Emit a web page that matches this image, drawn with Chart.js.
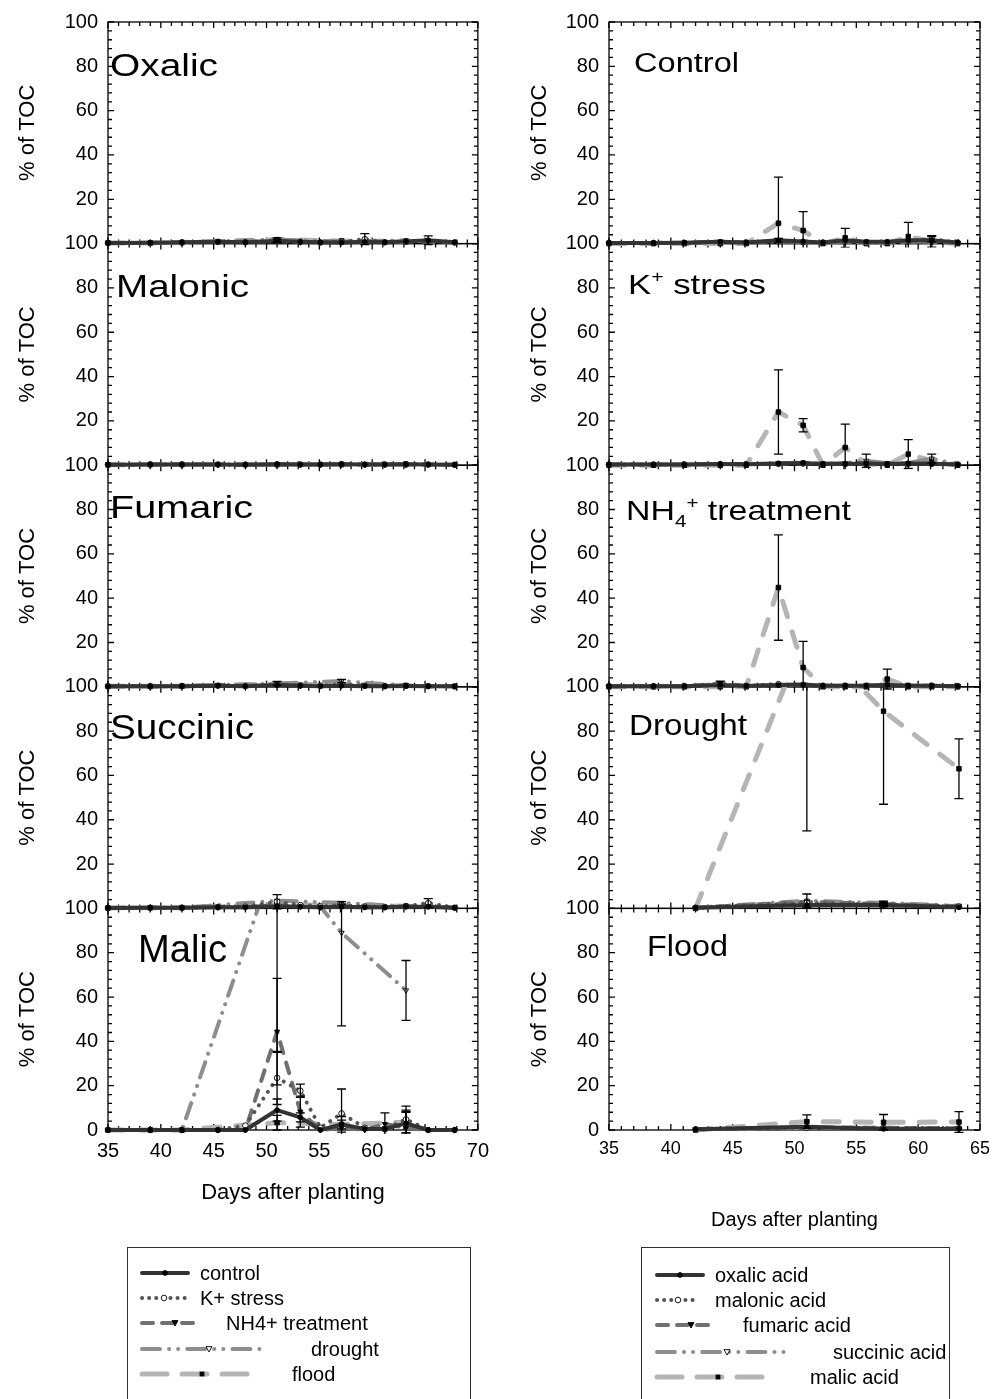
<!DOCTYPE html>
<html>
<head>
<meta charset="utf-8">
<title>% of TOC</title>
<script src="https://cdn.jsdelivr.net/npm/chart.js@4"></script>
<style>
html,body{margin:0;padding:0;background:#fff;}
body{position:relative;width:995px;height:1399px;overflow:hidden;font-family:"Liberation Sans",Arial,sans-serif;}
#leftChart{position:absolute;left:0;top:0;}
#rightChart{position:absolute;left:495px;top:0;}
#overlay{position:absolute;left:0;top:0;}
</style>
</head>
<body>
<canvas id="leftChart" width="498" height="1235"></canvas>
<canvas id="rightChart" width="503" height="1245"></canvas>
<svg id="overlay" width="995" height="1399" xmlns="http://www.w3.org/2000/svg"></svg>
<script>
// ---- data ----
const daysLeft = [35, 39, 42, 45.4, 48, 51, 53.2, 55.1, 57.1, 59.3, 61.2, 63.2, 65.3, 67.8];
const daysRight = [35, 38.6, 41.1, 44, 46.1, 48.7, 50.7, 52.3, 54.1, 55.8, 57.5, 59.2, 61.1, 63.2];
const daysStress = [42, 51, 57.2, 63.3];
const xTicksLeft = [35, 40, 45, 50, 55, 60, 65, 70];
const xTicksRight = [35, 40, 45, 50, 55, 60, 65];
const yTicks = [0, 20, 40, 60, 80, 100];

const treatments = ["control", "K+ stress", "NH4+ treatment", "drought", "flood"];
const acids = ["oxalic acid", "malonic acid", "fumaric acid", "succinic acid", "malic acid"];

// left column: one row per treatment (control, K+ stress, NH4+ treatment, drought, flood), % of TOC
const oxalicMean = [
  [0.3, 0.4, 0.6, 0.8, 0.6, 1.2, 0.8, 0.6, 0.5, 0.8, 0.6, 1.0, 1.5, 0.6],
  [0.3, 0.3, 0.5, 0.8, 0.6, 1.0, 0.8, 0.5, 0.8, 2.0, 0.6, 1.0, 1.2, 0.5],
  [0.3, 0.3, 0.5, 1.0, 0.6, 1.2, 0.6, 0.5, 0.6, 0.8, 0.7, 1.0, 0.8, 0.5],
  [0.3, 0.3, 0.5, null, null, 1.8, null, null, 1.0, null, null, 1.5, null, null],
  [0.3, 0.3, 0.5, null, null, 1.8, null, null, 1.2, null, null, 0.8, null, null]
];
const oxalicErr = [
  [0, 0, 0, 0, 0, 0.8, 0, 0, 0, 0, 0, 0, 2.0, 0],
  [0, 0, 0, 0, 0, 0, 0, 0, 0, 2.5, 0, 0, 0, 0],
  [0, 0, 0, 0, 0, 0, 0, 0, 0, 0, 0, 0, 0, 0],
  [0, 0, 0, 0, 0, 0.8, 0, 0, 0, 0, 0, 0, 0, 0],
  [0, 0, 0, 0, 0, 0, 0, 0, 0, 0, 0, 0, 0, 0]
];
const malonicMean = [
  [0.2, 0.3, 0.3, 0.3, 0.2, 0.4, 0.3, 0.3, 0.4, 0.3, 0.3, 0.4, 0.3, 0.2],
  [0.2, 0.3, 0.3, 0.3, 0.2, 0.3, 0.3, 0.3, 0.5, 0.3, 0.3, 0.5, 0.3, 0.2],
  [0.2, 0.3, 0.3, 0.3, 0.2, 0.4, 0.3, 0.3, 0.3, 0.3, 0.3, 0.3, 0.3, 0.2],
  [0.2, 0.3, 0.3, null, null, 0.4, null, null, 0.5, null, null, 0.4, null, null],
  [0.2, 0.3, 0.3, null, null, 0.3, null, null, 0.3, null, null, 0.3, null, null]
];
const malonicErr = [
  [0, 0, 0, 0, 0, 0, 0, 0, 0, 0, 0, 0, 0, 0],
  [0, 0, 0, 0, 0, 0, 0, 0, 0, 0, 0, 0, 0, 0],
  [0, 0, 0, 0, 0, 0, 0, 0, 0, 0, 0, 0, 0, 0],
  [0, 0, 0, 0, 0, 0, 0, 0, 0, 0, 0, 0, 0, 0],
  [0, 0, 0, 0, 0, 0, 0, 0, 0, 0, 0, 0, 0, 0]
];
const fumaricMean = [
  [0.2, 0.2, 0.3, 0.5, 0.3, 0.8, 0.5, 0.3, 0.5, 0.3, 0.3, 0.4, 0.3, 0.2],
  [0.2, 0.2, 0.3, 0.5, 0.3, 1.0, 0.6, 0.5, 1.2, 0.5, 0.3, 0.5, 0.3, 0.2],
  [0.2, 0.2, 0.3, 0.8, 0.3, 1.0, 0.5, 0.3, 0.6, 0.5, 0.3, 0.6, 0.3, 0.2],
  [0.2, 0.2, 0.3, null, null, 1.5, null, null, 2.6, null, null, 0.5, null, null],
  [0.2, 0.2, 0.3, null, null, 1.0, null, null, 1.0, null, null, 0.5, null, null]
];
const fumaricErr = [
  [0, 0, 0, 0, 0, 0, 0, 0, 0, 0, 0, 0, 0, 0],
  [0, 0, 0, 0, 0, 0, 0, 0, 0, 0, 0, 0, 0, 0],
  [0, 0, 0, 0, 0, 0, 0, 0, 0, 0, 0, 0, 0, 0],
  [0, 0, 0, 0, 0, 0.9, 0, 0, 0.7, 0, 0, 0, 0, 0],
  [0, 0, 0, 0, 0, 0, 0, 0, 0, 0, 0, 0, 0, 0]
];
const succinicMean = [
  [0.2, 0.3, 0.3, 0.5, 0.5, 1.0, 0.8, 0.5, 0.8, 0.5, 0.5, 0.8, 0.8, 0.3],
  [0.2, 0.3, 0.3, 0.5, 0.8, 3.0, 1.5, 1.0, 1.5, 0.8, 0.6, 1.0, 2.4, 0.3],
  [0.2, 0.3, 0.3, 0.8, 0.5, 1.5, 0.8, 0.5, 1.0, 0.6, 0.5, 1.0, 0.8, 0.3],
  [0.2, 0.3, 0.3, null, null, 3.5, null, null, 2.5, null, null, 1.0, null, null],
  [0.2, 0.3, 0.3, null, null, 1.5, null, null, 1.5, null, null, 1.0, null, null]
];
const succinicErr = [
  [0, 0, 0, 0, 0, 0, 0, 0, 0, 0, 0, 0, 0, 0],
  [0, 0, 0, 0, 0, 3.2, 0, 0, 0, 0, 0, 0, 2.0, 0],
  [0, 0, 0, 0, 0, 0, 0, 0, 0, 0, 0, 0, 0, 0],
  [0, 0, 0, 0, 0, 0, 0, 0, 0.6, 0, 0, 0, 0, 0],
  [0, 0, 0, 0, 0, 0, 0, 0, 0, 0, 0, 0, 0, 0]
];
const malicMean = [
  [0, 0, 0, 0, 0, 9.0, 5.7, 0, 2.5, 0.5, 0.5, 3.0, 0, 0],
  [0, 0, 0, 0, 2.0, 23.5, 17.7, 1.0, 7.5, 1.0, 0.3, 4.8, 0, 0],
  [0, 0, 0, 0, 0, 44.4, 8.3, 0, 1.0, 0, 2.7, 1.0, 0, 0],
  [0, 0, 0, null, null, 125, null, null, 89, null, null, 63, null, null],
  [0, 0, 0, null, null, 3.3, null, null, 2.5, null, null, 3.5, null, null]
];
const malicErr = [
  [0, 0, 0, 0, 0, 5.0, 2.0, 0, 2.0, 0, 0, 5.0, 0, 0],
  [0, 0, 0, 0, 0, 12.0, 3.0, 0, 11.0, 0, 0, 6.0, 0, 0],
  [0, 0, 0, 0, 0, 24.0, 7.0, 0, 0, 0, 5.0, 8.0, 0, 0],
  [0, 0, 0, 0, 0, 90, 0, 0, 42, 0, 0, 13.5, 0, 0],
  [0, 0, 0, 0, 0, 3.3, 0, 0, 3.5, 0, 0, 4.8, 0, 0]
];

// right column: one row per acid (oxalic, malonic, fumaric, succinic, malic), % of TOC
const controlMean = [
  [0.3, 0.3, 0.4, 0.8, 0.5, 1.5, 1.0, 0.5, 1.5, 0.8, 0.8, 1.5, 1.5, 0.5],
  [0.3, 0.3, 0.3, 0.6, 0.5, 1.0, 0.6, 0.5, 1.0, 0.5, 0.6, 1.0, 2.0, 0.5],
  [0.3, 0.3, 0.4, 0.9, 0.4, 1.2, 0.6, 0.4, 0.6, 0.5, 0.4, 0.8, 0.6, 0.3],
  [0.3, 0.3, 0.3, 0.7, 0.4, 1.0, 0.8, 0.4, 0.6, 0.4, 0.4, 0.8, 1.0, 0.3],
  [0, 0, 0, 0, 0, 9.2, 5.9, 0, 2.6, 0, 0, 3.2, 1.0, 0]
];
const controlErr = [
  [0, 0, 0, 0, 0, 0.8, 0, 0, 0, 0, 0, 0, 0, 0],
  [0, 0, 0, 0, 0, 0, 0, 0, 0, 0, 0, 0, 1.2, 0],
  [0, 0, 0, 0, 0, 0, 0, 0, 0, 0, 0, 0, 0, 0],
  [0, 0, 0, 0, 0, 0, 0, 0, 0, 0, 0, 0, 0, 0],
  [0, 0, 0, 0, 0, 20.8, 8.5, 0, 4.3, 0, 0, 6.4, 2.6, 0]
];
const kStressMean = [
  [0.3, 0.3, 0.3, 0.5, 0.4, 0.8, 1.0, 0.5, 0.5, 0.8, 0.5, 0.8, 0.6, 0.3],
  [0.3, 0.3, 0.3, 0.5, 0.4, 0.6, 0.8, 0.5, 0.5, 0.6, 0.5, 0.6, 0.6, 0.3],
  [0.3, 0.3, 0.3, 0.5, 0.4, 0.8, 0.8, 0.6, 0.8, 1.0, 0.6, 0.8, 0.8, 0.3],
  [0.3, 0.3, 0.3, 0.5, 0.4, 0.8, 1.2, 0.8, 1.0, 2.0, 1.0, 1.0, 3.0, 0.3],
  [0, 0, 0, 0, 0, 24.0, 18.0, 0, 8.0, 0.5, 0, 5.0, 2.0, 0]
];
const kStressErr = [
  [0, 0, 0, 0, 0, 0, 0, 0, 0, 0, 0, 0, 0, 0],
  [0, 0, 0, 0, 0, 0, 0, 0, 0, 0, 0, 0, 0, 0],
  [0, 0, 0, 0, 0, 0, 0, 0, 0, 0, 0, 0, 0, 0],
  [0, 0, 0, 0, 0, 0, 0, 0, 0, 3.0, 0, 0, 2.0, 0],
  [0, 0, 0, 0, 0, 19.0, 3.0, 0, 10.5, 0, 0, 6.5, 0, 0]
];
const nh4Mean = [
  [0.3, 0.3, 0.3, 0.8, 0.4, 0.8, 1.0, 0.5, 0.5, 0.5, 0.8, 0.5, 0.5, 0.3],
  [0.3, 0.3, 0.3, 0.6, 0.4, 1.2, 0.8, 0.5, 0.5, 0.5, 0.6, 0.5, 0.5, 0.3],
  [0.3, 0.3, 0.3, 1.5, 0.4, 0.8, 0.8, 0.5, 0.5, 0.5, 1.0, 0.5, 0.5, 0.3],
  [0.3, 0.3, 0.3, 1.0, 0.4, 0.8, 1.0, 0.5, 0.5, 0.5, 1.0, 0.5, 0.5, 0.3],
  [0, 0, 0, 0, 0, 44.8, 8.7, 0, 0, 0, 3.5, 0, 0, 0]
];
const nh4Err = [
  [0, 0, 0, 0, 0, 0, 0, 0, 0, 0, 0, 0, 0, 0],
  [0, 0, 0, 0, 0, 0, 0, 0, 0, 0, 0, 0, 0, 0],
  [0, 0, 0, 1.0, 0, 0, 0, 0, 0, 0, 0, 0, 0, 0],
  [0, 0, 0, 0, 0, 0, 0, 0, 0, 0, 0, 0, 0, 0],
  [0, 0, 0, 0, 0, 23.8, 11.8, 0, 0, 0, 4.5, 0, 0, 0]
];
const droughtMean = [
  [0.3, 1.5, 1.5, 0.5],
  [0.3, 2.5, 1.5, 0.8],
  [0.3, 3.0, 2.0, 1.0],
  [0.3, 3.5, 2.5, 1.2],
  [0, 125, 89, 63]
];
const droughtErr = [
  [0, 0, 0.8, 0],
  [0, 0, 0, 0],
  [0, 0, 0.8, 0],
  [0, 3.0, 0.8, 0],
  [0, 90, 42, 13.5]
];
const floodMean = [
  [0.3, 1.5, 0.5, 0.5],
  [0.3, 1.0, 1.0, 0.8],
  [0.3, 1.2, 1.0, 0.8],
  [0.3, 1.0, 0.8, 0.6],
  [0, 3.8, 3.5, 3.6]
];
const floodErr = [
  [0, 0, 0, 0],
  [0, 0, 0, 0],
  [0, 0, 0, 0],
  [0, 0, 0, 0],
  [0, 3.0, 3.5, 4.7]
];

// ---- styles ----
const FONT = '"Liberation Sans", Arial, sans-serif';
const seriesColor = ['#333333', '#555555', '#707070', '#8e8e8e', '#b5b5b5'];
const seriesWidth = [4, 4, 4, 4, 5];
const seriesDash = [[], [0.1, 8], [11, 10], [16, 9, 0.1, 9, 0.1, 9], [16, 16]];
const pointShape = ['circle', 'circle', 'triangle', 'triangle', 'rect'];
const pointFill = ['#000', '#fff', '#000', '#fff', '#000'];
const pointSize = [2.4, 2.8, 3.0, 3.0, 3.2];

function buildDatasets(panels, ids) {
  const sets = [];
  panels.forEach((panel, p) => {
    panel.mean.forEach((row, s) => {
      const pts = [];
      row.forEach((v, k) => {
        if (v === null) return;
        pts.push({x: panel.days[k], y: v, e: panel.err[s][k]});
      });
      sets.push({
        data: pts,
        yAxisID: ids[p],
        order: s,
        borderColor: seriesColor[s],
        borderWidth: seriesWidth[s],
        borderDash: seriesDash[s],
        borderCapStyle: 'round',
        borderJoinStyle: 'round',
        tension: 0,
        fill: false,
        pointStyle: pointShape[s],
        pointRotation: (s === 2 || s === 3) ? 180 : 0,
        pointRadius: pointSize[s],
        pointBackgroundColor: pointFill[s],
        pointBorderColor: '#000',
        pointBorderWidth: 0.9,
        clip: {left: 8, right: 8, top: 0, bottom: 4}
      });
    });
  });
  return sets;
}

// frames with inward ticks, drawn under the data
const framePlugin = {
  id: 'frames',
  beforeDatasetsDraw(chart, args, opts) {
    const ctx = chart.ctx, xs = chart.scales.x;
    ctx.save();
    ctx.strokeStyle = '#000';
    ctx.lineWidth = 1.3;
    opts.ids.forEach(id => {
      const ys = chart.scales[id];
      ctx.strokeRect(xs.left, ys.top, xs.right - xs.left, ys.bottom - ys.top);
      ctx.beginPath();
      for (let v = 0; v <= 100; v += 4) {
        const y = ys.getPixelForValue(v);
        const len = v % 20 === 0 ? 6 : 4;
        ctx.moveTo(xs.left, y); ctx.lineTo(xs.left + len, y);
        ctx.moveTo(xs.right, y); ctx.lineTo(xs.right - len, y);
      }
      for (let d = xs.min; d <= xs.max; d += 1) {
        const x = xs.getPixelForValue(d);
        const len = d % 5 === 0 ? 6 : 4;
        ctx.moveTo(x, ys.top); ctx.lineTo(x, ys.top + len);
        ctx.moveTo(x, ys.bottom); ctx.lineTo(x, ys.bottom - len);
      }
      ctx.stroke();
    });
    ctx.restore();
  }
};

const errorBarPlugin = {
  id: 'errorBars',
  afterDatasetsDraw(chart) {
    const ctx = chart.ctx, xs = chart.scales.x;
    chart.data.datasets.forEach((ds, di) => {
      const meta = chart.getDatasetMeta(di);
      const ys = chart.scales[ds.yAxisID];
      ctx.save();
      ctx.beginPath();
      ctx.rect(xs.left - 8, ys.top, xs.right - xs.left + 16, ys.bottom - ys.top + 4);
      ctx.clip();
      ctx.strokeStyle = '#000';
      ctx.lineWidth = 1.3;
      ds.data.forEach((pt, i) => {
        if (!pt.e) return;
        const x = meta.data[i].x;
        const yTop = ys.getPixelForValue(pt.y + pt.e);
        const yBot = ys.getPixelForValue(pt.y - pt.e);
        ctx.beginPath();
        ctx.moveTo(x, yTop); ctx.lineTo(x, yBot);
        ctx.moveTo(x - 4.5, yTop); ctx.lineTo(x + 4.5, yTop);
        ctx.moveTo(x - 4.5, yBot); ctx.lineTo(x + 4.5, yBot);
        ctx.stroke();
      });
      ctx.restore();
    });
  }
};

function makeChart(canvasId, cfg) {
  const scales = {
    x: {
      type: 'linear', position: 'bottom', min: cfg.xTicks[0], max: cfg.xTicks[cfg.xTicks.length - 1],
      afterBuildTicks: s => { s.ticks = cfg.xTicks.map(v => ({value: v})); },
      afterFit: s => { s.height = cfg.xAxisHeight; },
      grid: {display: false, drawTicks: false},
      border: {display: false},
      ticks: {color: '#000', font: {family: FONT, size: cfg.xTickSize}, padding: cfg.xTickPad, maxRotation: 0, autoSkip: false},
      title: {display: true, text: 'Days after planting', color: '#000',
        font: {family: FONT, size: cfg.xTitleSize}, padding: {top: 0, bottom: cfg.xTitlePad}}
    }
  };
  cfg.ids.forEach((id, i) => {
    scales[id] = {
      type: 'linear', position: 'left', stack: 'panels', stackWeight: 1, weight: cfg.ids.length - i,
      min: 0, max: 100,
      afterBuildTicks: s => { s.ticks = yTicks.map(v => ({value: v})); },
      afterFit: s => { s.width = cfg.yAxisWidth; },
      grid: {display: false, drawTicks: false},
      border: {display: false},
      ticks: {color: '#000', font: {family: FONT, size: cfg.yTickSize}, padding: cfg.yTickPad, autoSkip: false,
        callback: v => (v === 0 && i < cfg.ids.length - 1) ? '' : String(v)},
      title: {display: true, text: '% of TOC', color: '#000',
        font: {family: FONT, size: cfg.yTitleSize}, padding: {top: cfg.yTitlePad, bottom: 0}}
    };
  });
  return new Chart(document.getElementById(canvasId), {
    type: 'line',
    data: {datasets: buildDatasets(cfg.panels, cfg.ids)},
    options: {
      responsive: false,
      animation: false,
      devicePixelRatio: 1,
      layout: {padding: cfg.padding},
      scales: scales,
      plugins: {
        legend: {display: false},
        tooltip: {enabled: false},
        frames: {ids: cfg.ids}
      }
    },
    plugins: [framePlugin, errorBarPlugin]
  });
}

const leftCfg = {
  ids: ['yOxalic', 'yMalonic', 'yFumaric', 'ySuccinic', 'yMalic'],
  panels: [
    {days: daysLeft, mean: oxalicMean, err: oxalicErr},
    {days: daysLeft, mean: malonicMean, err: malonicErr},
    {days: daysLeft, mean: fumaricMean, err: fumaricErr},
    {days: daysLeft, mean: succinicMean, err: succinicErr},
    {days: daysLeft, mean: malicMean, err: malicErr}
  ],
  xTicks: xTicksLeft,
  padding: {left: 0, right: 20, top: 22, bottom: 0},
  yAxisWidth: 108, xAxisHeight: 105,
  xTickSize: 20, xTickPad: 9, xTitleSize: 22, xTitlePad: 29,
  yTickSize: 20, yTickPad: 10, yTitleSize: 22, yTitlePad: 15,
  canvasLeft: 0,
  titles: [
    {parts: [{text: 'Oxalic'}], dx: 2, dy: 54, size: 31, width: 108},
    {parts: [{text: 'Malonic'}], dx: 8, dy: 53, size: 32, width: 133},
    {parts: [{text: 'Fumaric'}], dx: 2, dy: 53, size: 32, width: 143},
    {parts: [{text: 'Succinic'}], dx: 2, dy: 52, size: 35, width: 144},
    {parts: [{text: 'Malic'}], dx: 30, dy: 54, size: 38, width: 89}
  ]
};
const rightCfg = {
  ids: ['yControl', 'yKStress', 'yNH4', 'yDrought', 'yFlood'],
  panels: [
    {days: daysRight, mean: controlMean, err: controlErr},
    {days: daysRight, mean: kStressMean, err: kStressErr},
    {days: daysRight, mean: nh4Mean, err: nh4Err},
    {days: daysStress, mean: droughtMean, err: droughtErr},
    {days: daysStress, mean: floodMean, err: floodErr}
  ],
  xTicks: xTicksRight,
  padding: {left: 0, right: 18, top: 22, bottom: 0},
  yAxisWidth: 114, xAxisHeight: 115,
  xTickSize: 18, xTickPad: 8, xTitleSize: 20, xTitlePad: 13,
  yTickSize: 20, yTickPad: 10, yTitleSize: 22, yTitlePad: 32,
  canvasLeft: 495,
  titles: [
    {parts: [{text: 'Control'}], dx: 25, dy: 50, size: 27, width: 105},
    {parts: [{text: 'K'}, {text: '+', small: true, shift: -0.42}, {text: ' stress'}], dx: 19, dy: 50, size: 28, width: 138},
    {parts: [{text: 'NH'}, {text: '4', small: true, shift: 0.25}, {text: '+', small: true, shift: -0.42}, {text: ' treatment'}], dx: 17, dy: 55, size: 28, width: 225},
    {parts: [{text: 'Drought'}], dx: 20, dy: 48, size: 30, width: 118},
    {parts: [{text: 'Flood'}], dx: 38, dy: 48, size: 30, width: 81}
  ]
};

const leftChart = makeChart('leftChart', leftCfg);
const rightChart = makeChart('rightChart', rightCfg);

// ---- overlay (panel names and legends, svg text) ----
const svg = document.getElementById('overlay');
const NS = 'http://www.w3.org/2000/svg';
function el(name, attrs, text, parent) {
  const e = document.createElementNS(NS, name);
  Object.keys(attrs).forEach(k => e.setAttribute(k, attrs[k]));
  if (text !== undefined) e.textContent = text;
  (parent || svg).appendChild(e);
  return e;
}

function panelNames(chart, cfg) {
  const xs = chart.scales.x;
  cfg.titles.forEach((t, i) => {
    const ys = chart.scales[cfg.ids[i]];
    const txt = el('text', {
      x: cfg.canvasLeft + xs.left + t.dx, y: ys.top + t.dy,
      'font-family': FONT, 'font-size': t.size, fill: '#000',
      textLength: t.width, lengthAdjust: 'spacingAndGlyphs'
    });
    let prev = 0;
    t.parts.forEach(p => {
      const shift = (p.shift || 0) * t.size;
      el('tspan', {dy: shift - prev, 'font-size': p.small ? Math.round(t.size * 0.62) : t.size}, p.text, txt);
      prev = shift;
    });
  });
}
panelNames(leftChart, leftCfg);
panelNames(rightChart, rightCfg);

const legendLeftBox = {x: 127.5, y: 1247.5, w: 343, h: 200};
const legendRightBox = {x: 641.5, y: 1247.5, w: 308, h: 200};
const legendLeftRows = [
  {x0: 142, x1: 188, mx: 165, tx: 200, y: 1273},
  {x0: 142, x1: 188, mx: 164, tx: 200, y: 1298},
  {x0: 142, x1: 200, mx: 175, tx: 226, y: 1323},
  {x0: 142, x1: 268, mx: 209, tx: 311, y: 1349},
  {x0: 142, x1: 248, mx: 202, tx: 292, y: 1374}
];
const legendRightRows = [
  {x0: 657, x1: 703, mx: 680, tx: 715, y: 1275},
  {x0: 657, x1: 696, mx: 678, tx: 715, y: 1300},
  {x0: 657, x1: 715, mx: 691, tx: 743, y: 1325},
  {x0: 657, x1: 790, mx: 727, tx: 833, y: 1352},
  {x0: 657, x1: 765, mx: 718, tx: 810, y: 1377}
];
const legendDash = ['', '0.1 7', '11 9', '18 9 0.1 9 0.1 9', '25 15'];

function marker(s, x, y) {
  if (pointShape[s] === 'circle') {
    el('circle', {cx: x, cy: y, r: pointSize[s], fill: pointFill[s], stroke: '#000', 'stroke-width': 0.9});
  } else if (pointShape[s] === 'triangle') {
    const r = pointSize[s];
    el('polygon', {points: `${x - r},${y - r * 0.8} ${x + r},${y - r * 0.8} ${x},${y + r}`, fill: pointFill[s], stroke: '#000', 'stroke-width': 0.9});
  } else {
    el('rect', {x: x - 2.4, y: y - 2.4, width: 4.8, height: 4.8, fill: '#000'});
  }
}
function legend(box, rows, names) {
  el('rect', {x: box.x, y: box.y, width: box.w, height: box.h, fill: '#fff', stroke: '#333', 'stroke-width': 1});
  rows.forEach((r, s) => {
    const attrs = {x1: r.x0, y1: r.y, x2: r.x1, y2: r.y, stroke: seriesColor[s], 'stroke-width': seriesWidth[s], 'stroke-linecap': 'round'};
    if (legendDash[s]) attrs['stroke-dasharray'] = legendDash[s];
    el('line', attrs);
    marker(s, r.mx, r.y);
    el('text', {x: r.tx, y: r.y, 'dominant-baseline': 'central', 'font-family': FONT, 'font-size': 20, fill: '#000'}, names[s]);
  });
}
legend(legendLeftBox, legendLeftRows, treatments);
legend(legendRightBox, legendRightRows, acids);
</script>
</body>
</html>
